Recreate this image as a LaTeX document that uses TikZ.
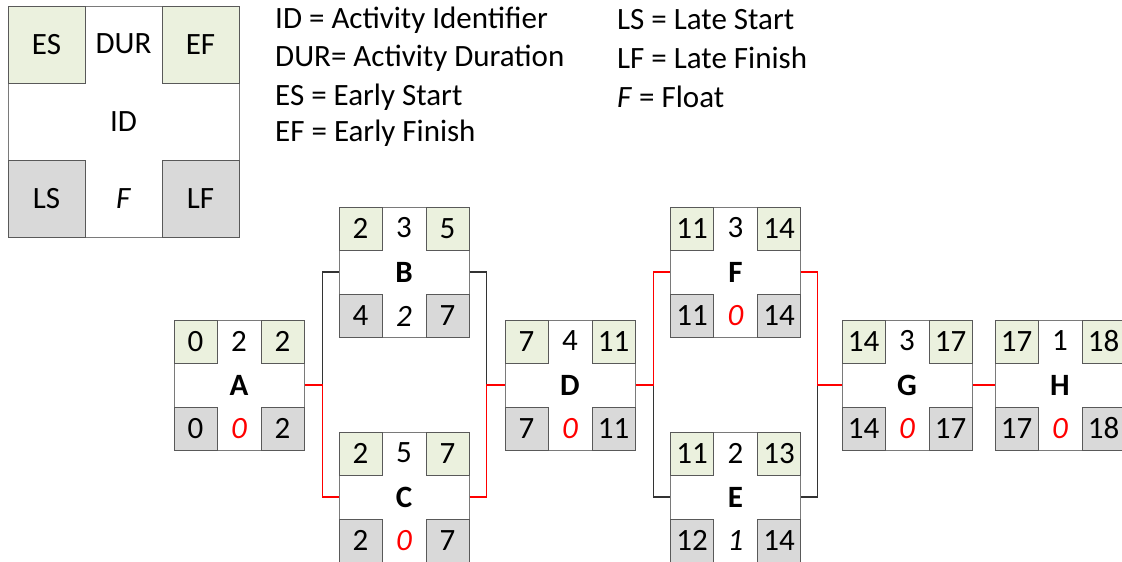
\documentclass[tikz,border=0pt]{standalone}
\usepackage{fontspec}
\setmainfont{Carlito}
\usetikzlibrary{positioning}
\usetikzlibrary{calc}
\definecolor{earlygreen}{HTML}{EBF1DE}
\definecolor{lategray}{HTML}{D9D9D9}
\definecolor{cellline}{HTML}{595959}
\definecolor{critred}{HTML}{FF0000}

\tikzset{
  actbox/.style={draw=cellline!80, fill=white, line width=1pt, minimum width=130pt, minimum height=130pt, inner sep=0pt},
  keybox/.style={draw=cellline!80, fill=white, line width=1pt, minimum width=231pt, minimum height=231pt, inner sep=0pt},
  early/.style={draw=cellline, fill=earlygreen, line width=1pt, minimum size=43pt, inner sep=0pt},
  late/.style={draw=cellline, fill=lategray, line width=1pt, minimum size=43pt, inner sep=0pt},
  keyearly/.style={early, minimum size=77pt},
  keylate/.style={late, minimum size=77pt},
  crit/.style={draw=critred, line width=1.3pt},
  noncrit/.style={draw=black!80, line width=1.1pt},
  keytext/.style={anchor=west, inner sep=0pt}
}

% activity box: name, centre, ES, DUR, EF, LS, F, LF
\newcommand{\act}[8]{%
  \node[actbox] (#1) at (#2) {};
  \node[early, anchor=north west] (#1-es) at (#1.north west) {#3};
  \node[early, anchor=north east] (#1-ef) at (#1.north east) {#5};
  \node[late, anchor=south west] (#1-ls) at (#1.south west) {#6};
  \node[late, anchor=south east] (#1-lf) at (#1.south east) {#8};
  \node (#1-dur) at ($(#1.north)+(0,21.5)$) {#4};
  \node (#1-id) at (#1) {\textbf{#1}};
  \ifnum#7=0
    \node[text=critred] (#1-fl) at ($(#1.south)+(0,-21.5)$) {\textit{#7}};
  \else
    \node (#1-fl) at ($(#1.south)+(0,-21.5)$) {\textit{#7}};
  \fi
}

\begin{document}
\begin{tikzpicture}[x=1pt, y=-1pt, node font=\fontsize{31}{36}\selectfont]
  \useasboundingbox (0,0) rectangle (1122,562);

  % Draw the key box
  \node[keybox] (key) at (123.5,121.5) {};
  \node[keyearly, anchor=north west] (key-es) at (key.north west) {ES};
  \node[keyearly, anchor=north east] (key-ef) at (key.north east) {EF};
  \node[keylate, anchor=south west] (key-ls) at (key.south west) {LS};
  \node[keylate, anchor=south east] (key-lf) at (key.south east) {LF};
  \node (key-dur) at ($(key.north)+(0,38.5)$) {DUR};
  \node (key-id) at (key) {ID};
  \node (key-fl) at ($(key.south)+(0,-38.5)$) {\textit{F}};

  % Key texts
  \node[keytext] (idtxt) at (275,20) {ID = Activity Identifier};
  \node[keytext] (durtxt) at (275,58) {DUR= Activity Duration};
  \node[keytext] (estxt) at (275,97) {ES = Early Start};
  \node[keytext] (eftxt) at (275,133) {EF = Early Finish};
  \node[keytext] (lstxt) at (617,20) {LS = Late Start};
  \node[keytext] (lftxt) at (617,58) {LF = Late Finish};
  \node[keytext] (fltxt) at (617,97) {\textit{F} = Float};

  % Draw the activities
  \act{A}{239,385}{0}{2}{2}{0}{0}{2}
  \act{B}{404,272}{2}{3}{5}{4}{2}{7}
  \act{C}{404,497}{2}{5}{7}{2}{0}{7}
  \act{D}{570,385}{7}{4}{11}{7}{0}{11}
  \act{F}{735.5,272}{11}{3}{14}{11}{0}{14}
  \act{E}{735.5,497}{11}{2}{13}{12}{1}{14}
  \act{G}{907,385}{14}{3}{17}{14}{0}{17}
  \act{H}{1060,385}{17}{1}{18}{17}{0}{18}

  % Draw the links
  \coordinate (jAB) at ($(A.east)+(18,0)$);
  \draw[noncrit] (jAB) |- (B.west);
  \draw[crit] (A.east) -- (jAB) |- (C.west);

  \coordinate (jBD) at ($(D.west)+(-18,0)$);
  \draw[noncrit] (B.east) -| (jBD);
  \draw[crit] (C.east) -| (jBD) -- (D.west);

  \coordinate (jDF) at ($(D.east)+(18,0)$);
  \draw[noncrit] (jDF) |- (E.west);
  \draw[crit] (D.east) -- (jDF) |- (F.west);

  \coordinate (jFG) at ($(G.west)+(-24,0)$);
  \draw[noncrit] (E.east) -| (jFG);
  \draw[crit] (F.east) -| (jFG) -- (G.west);

  \draw[crit] (G.east) -- (H.west);
\end{tikzpicture}
\end{document}
